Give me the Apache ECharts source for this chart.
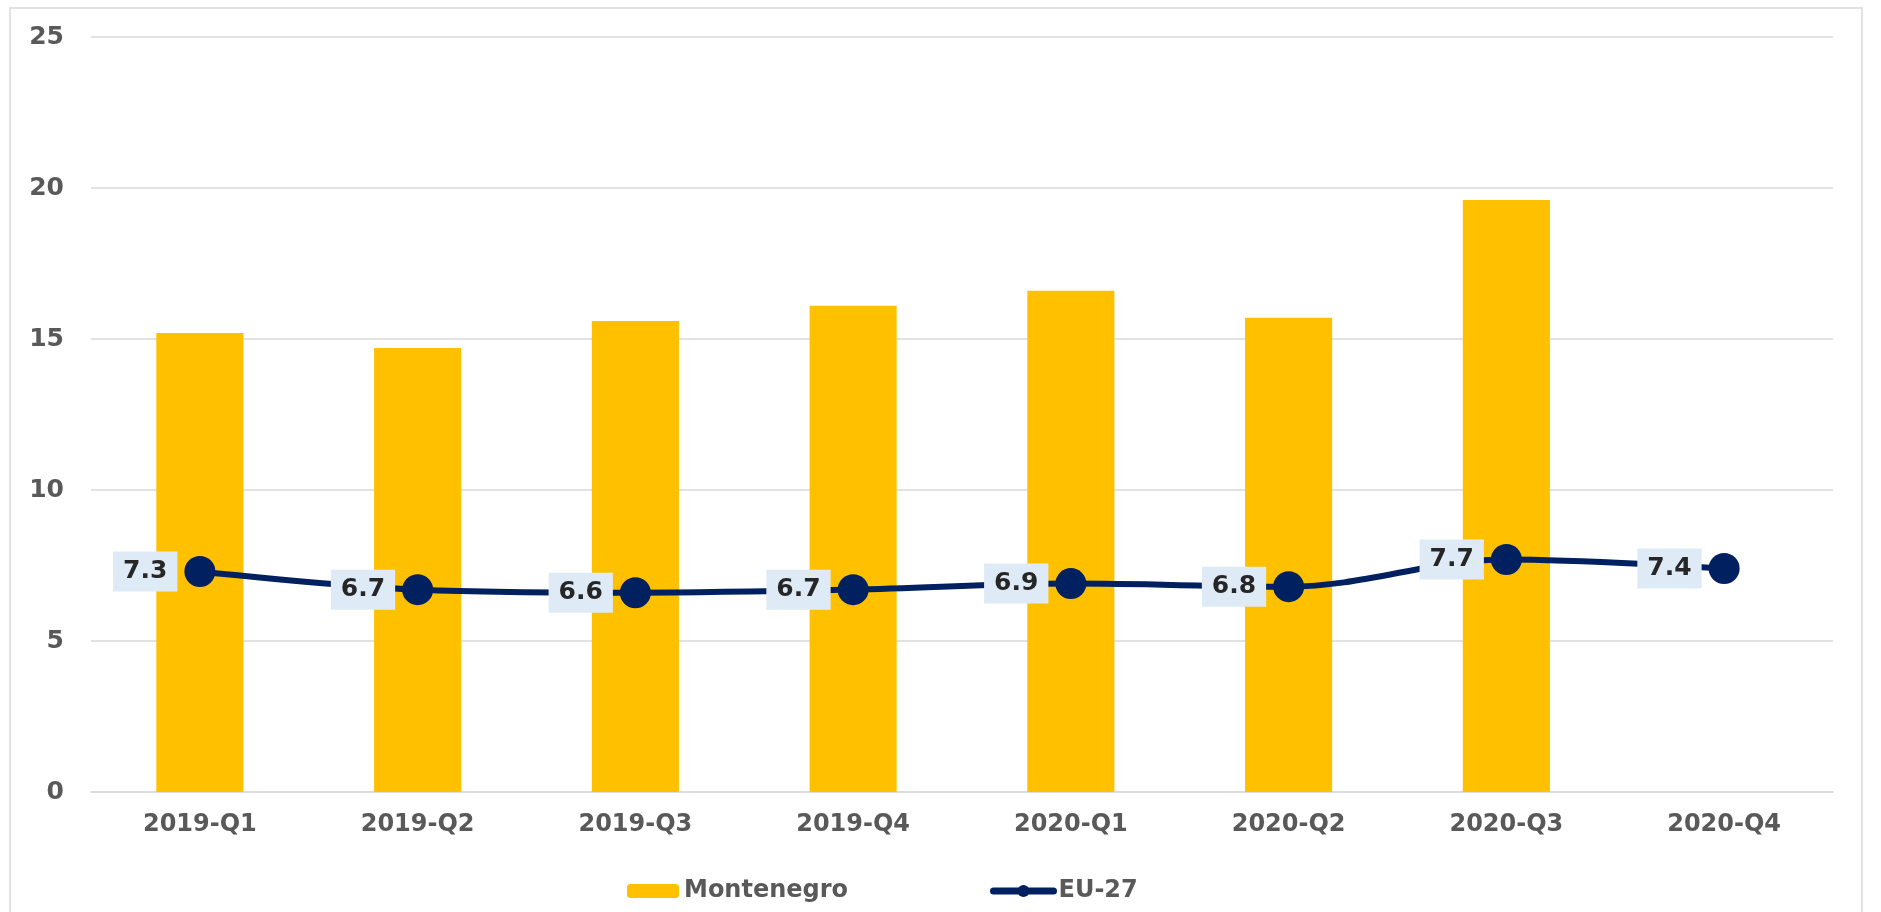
<!DOCTYPE html>
<html>
<head>
<meta charset="utf-8">
<script src="https://cdn.jsdelivr.net/npm/echarts@6/dist/echarts.min.js"></script>
<style>
  html, body { margin: 0; padding: 0; background: #fff; }
  #chart { width: 1881px; height: 912px; }
</style>
</head>
<body>
<div id="chart"></div>
<script>
// Datos del gráfico
const categories = ['2019-Q1', '2019-Q2', '2019-Q3', '2019-Q4', '2020-Q1', '2020-Q2', '2020-Q3', '2020-Q4'];
const montenegro = [15.2, 14.7, 15.6, 16.1, 16.6, 15.7, 19.6, null];
const eu27 = [7.3, 6.7, 6.6, 6.7, 6.9, 6.8, 7.7, 7.4];
const yTicks = [0, 5, 10, 15, 20, 25];

const fontFamily = '"DejaVu Sans", Verdana, sans-serif';
const axisGray = '#595959';
const gridGray = '#d9d9d9';
const legendText = { fontFamily, fontWeight: 'bold', fontSize: 24, color: axisGray };

const chart = echarts.init(document.getElementById('chart'));

chart.setOption({
    animation: false,
    backgroundColor: '#fff',
    graphic: [
        {
            type: 'rect',
            shape: { x: 10, y: 8, width: 1852, height: 930 },
            style: { fill: 'none', stroke: gridGray, lineWidth: 1.5 },
            silent: true,
            z: -10
        }
    ],
    grid: { left: 91, right: 48, top: 37, bottom: 120 },
    // Dos leyendas para controlar el tamaño de cada icono
    legend: [
        {
            left: 622,
            top: 874,
            itemWidth: 52,
            itemHeight: 14,
            itemGap: 6,
            textStyle: legendText,
            data: ['Montenegro']
        },
        {
            left: 985,
            top: 874,
            itemWidth: 60,
            itemHeight: 15,
            textStyle: legendText,
            lineStyle: { width: 7, cap: 'round' },
            data: ['EU-27']
        }
    ],
    xAxis: {
        type: 'category',
        data: categories,
        axisTick: { show: false },
        axisLine: { lineStyle: { color: gridGray, width: 1.5 } },
        axisLabel: {
            margin: 21,
            fontFamily, fontWeight: 'bold', fontSize: 24, color: axisGray
        }
    },
    yAxis: {
        type: 'value',
        min: yTicks[0],
        max: yTicks[yTicks.length - 1],
        interval: 5,
        axisLine: { show: false },
        axisTick: { show: false },
        splitLine: { lineStyle: { color: gridGray, width: 1.5 } },
        axisLabel: {
            margin: 27,
            fontFamily, fontWeight: 'bold', fontSize: 25, color: axisGray
        }
    },
    series: [
        {
            name: 'Montenegro',
            type: 'bar',
            data: montenegro,
            barWidth: '40%',
            itemStyle: { color: '#ffc000' }
        },
        {
            name: 'EU-27',
            type: 'line',
            data: eu27,
            smooth: 0.35,
            symbol: 'circle',
            symbolSize: 31,
            lineStyle: { color: '#002060', width: 6 },
            itemStyle: { color: '#002060' },
            z: 5,
            label: {
                show: true,
                position: 'left',
                distance: 7,
                formatter: p => p.value.toFixed(1),
                fontFamily, fontWeight: 'bold', fontSize: 25, lineHeight: 26, color: '#262626',
                backgroundColor: '#deebf7',
                padding: [8, 10, 6, 10]
            }
        }
    ]
});

window.addEventListener('resize', () => chart.resize());
</script>
</body>
</html>
